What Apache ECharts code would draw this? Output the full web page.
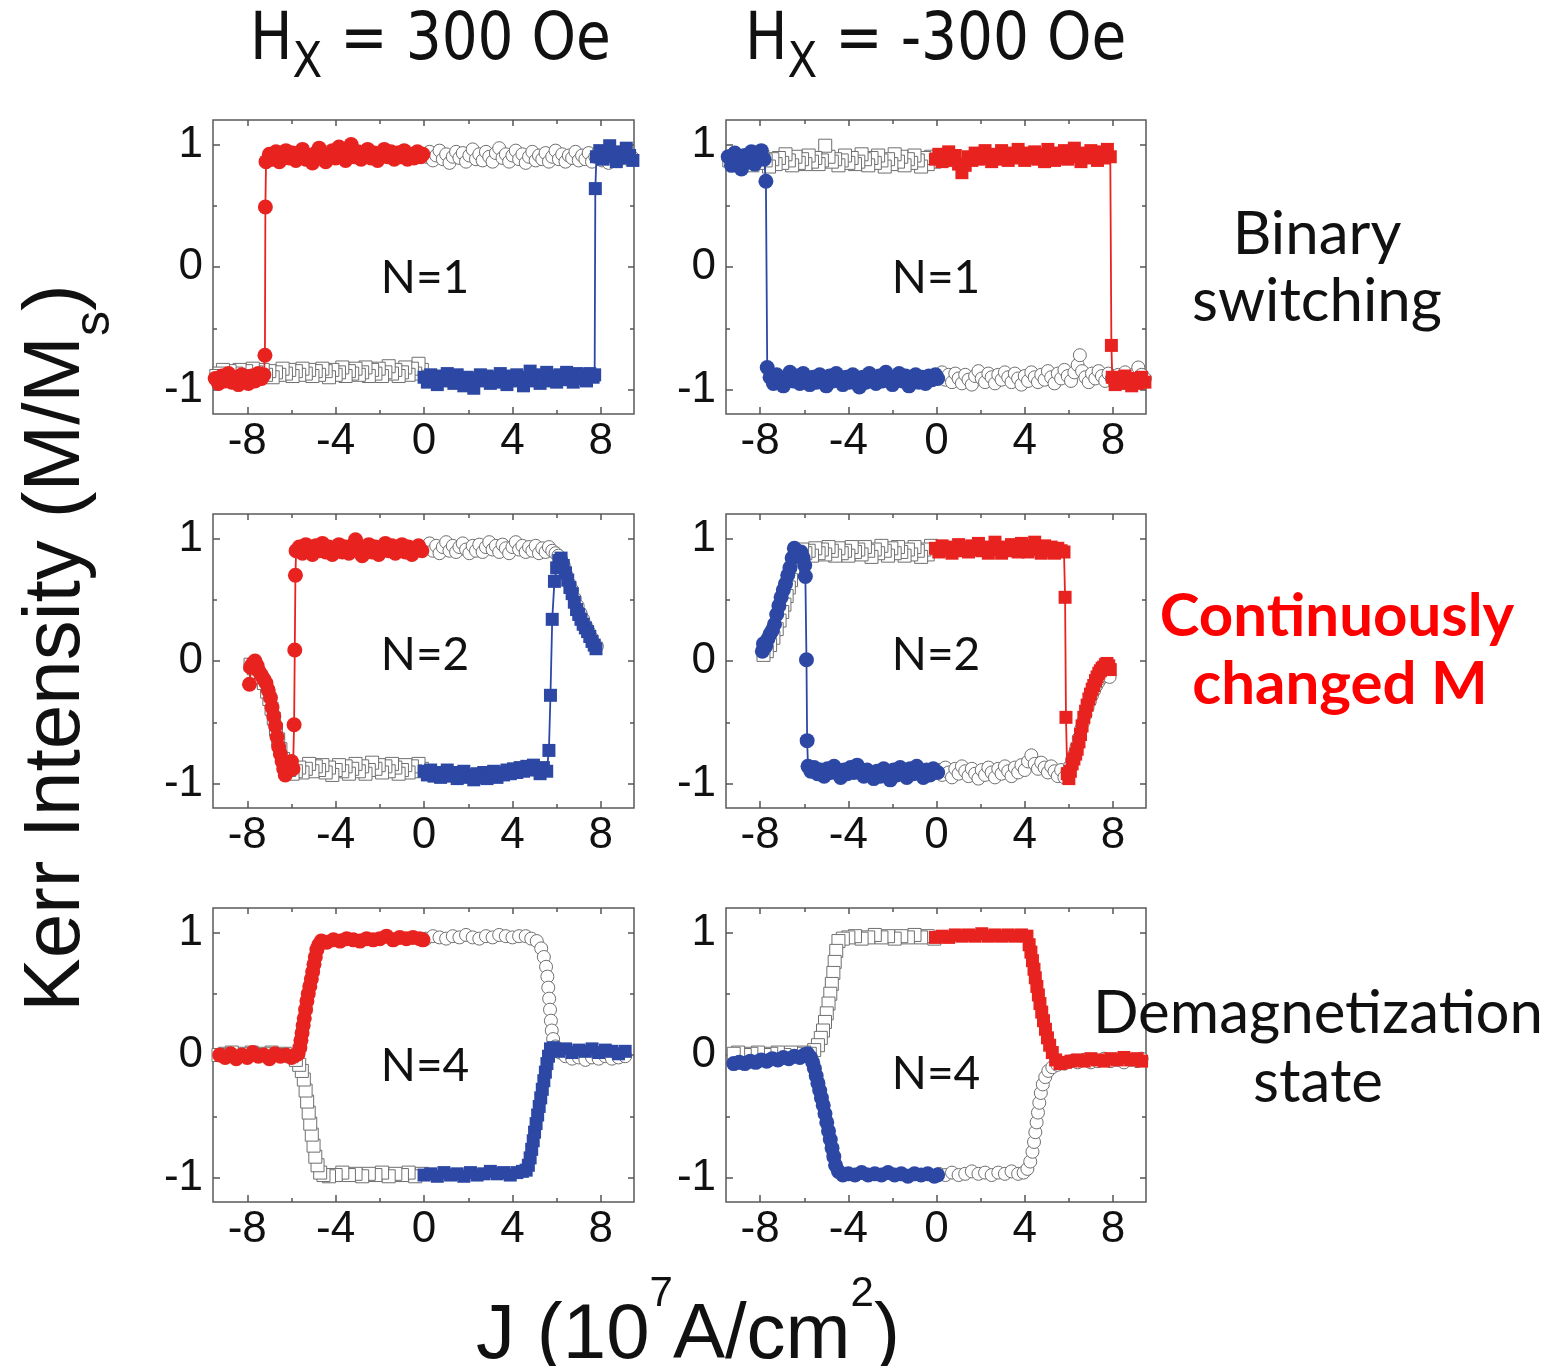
<!DOCTYPE html>
<html>
<head>
<meta charset="utf-8">
<script src="https://cdn.jsdelivr.net/npm/echarts@6/dist/echarts.min.js"></script>
<style>
  html, body { margin: 0; padding: 0; background: #fff; }
  #main { width: 1564px; height: 1366px; }
</style>
</head>
<body>
<div id="main"></div>
<script>
// tick positions
var xTicks = [-8, -4, 0, 4, 8];
var xMinor = [-6, -2, 2, 6];
var yTicks = [-1, 0, 1];
var yMinor = [-0.5, 0.5];

// ---- Hx = 300 Oe, N = 1 ----
var a_redCirc = [[-9.45,-0.91],[-9.3,-0.95],[-9.15,-0.89],[-9.0,-0.93],[-8.85,-0.87],[-8.7,-0.94],[-8.55,-0.9],[-8.4,-0.96],[-8.25,-0.88],[-8.1,-0.92],[-7.95,-0.95],[-7.8,-0.89],[-7.65,-0.93],[-7.5,-0.87],[-7.35,-0.91],[-7.25,-0.88],
  [-7.2,-0.72],[-7.18,0.49],[-7.15,0.86],
  [-7.0,0.92],[-6.85,0.88],[-6.7,0.94],[-6.55,0.86],[-6.4,0.91],[-6.25,0.95],[-6.1,0.89],[-5.95,0.93],[-5.8,0.87],[-5.65,0.92],[-5.5,0.96],[-5.35,0.88],[-5.2,0.91],[-5.05,0.85],[-4.9,0.93],[-4.75,0.97],[-4.6,0.9],[-4.45,0.86],[-4.3,0.92],[-4.15,0.95],[-4.0,0.89],[-3.85,0.98],[-3.7,0.93],[-3.55,0.87],[-3.4,0.95],[-3.3,1.0],[-3.15,0.9],[-3.0,0.94],[-2.85,0.88],[-2.7,0.92],[-2.55,0.96],[-2.4,0.89],[-2.25,0.93],[-2.1,0.87],[-1.95,0.91],[-1.8,0.96],[-1.65,0.9],[-1.5,0.94],[-1.35,0.88],[-1.2,0.93],[-1.05,0.9],[-0.9,0.95],[-0.75,0.88],[-0.6,0.92],[-0.45,0.89],[-0.3,0.94],[-0.15,0.9],[-0.05,0.92]];
var a_grayCirc = [[0.1,0.9],[0.25,0.94],[0.4,0.87],[0.55,0.91],[0.7,0.95],[0.85,0.88],[1.0,0.92],[1.15,0.85],[1.3,0.9],[1.45,0.94],[1.6,0.89],[1.75,0.93],[1.9,0.86],[2.05,0.91],[2.2,0.96],[2.35,0.88],[2.5,0.92],[2.65,0.87],[2.8,0.94],[2.95,0.9],[3.1,0.86],[3.25,0.93],[3.4,0.97],[3.55,0.89],[3.7,0.92],[3.85,0.86],[4.0,0.91],[4.15,0.95],[4.3,0.88],[4.45,0.92],[4.6,0.85],[4.75,0.9],[4.9,0.94],[5.05,0.87],[5.2,0.91],[5.35,0.88],[5.5,0.93],[5.65,0.86],[5.8,0.9],[5.95,0.95],[6.1,0.88],[6.25,0.92],[6.4,0.86],[6.55,0.91],[6.7,0.89],[6.85,0.94],[7.0,0.87],[7.15,0.91],[7.3,0.88],[7.45,0.93],[7.6,0.86],[7.75,0.9],[7.9,0.94],[8.05,0.87],[8.2,0.91],[8.35,0.85],[8.5,0.9],[8.65,0.93],[8.8,0.87],[8.95,0.91],[9.1,0.95],[9.25,0.88],[9.4,0.9]];
var a_blueSq = [[0.0,-0.9],[0.15,-0.94],[0.3,-0.88],[0.45,-0.92],[0.6,-0.96],[0.75,-0.89],[0.9,-0.93],[1.05,-0.87],[1.2,-0.91],[1.35,-0.95],[1.5,-0.88],[1.65,-0.92],[1.8,-0.97],[1.95,-0.9],[2.1,-0.94],[2.25,-0.99],[2.4,-0.91],[2.55,-0.88],[2.7,-0.93],[2.85,-0.89],[3.0,-0.95],[3.15,-0.9],[3.3,-0.94],[3.45,-0.87],[3.6,-0.92],[3.75,-0.96],[3.9,-0.89],[4.05,-0.93],[4.2,-0.88],[4.35,-0.92],[4.5,-0.97],[4.65,-0.9],[4.8,-0.85],[4.95,-0.93],[5.1,-0.88],[5.25,-0.95],[5.4,-0.91],[5.55,-0.86],[5.7,-0.93],[5.85,-0.89],[6.0,-0.94],[6.15,-0.88],[6.3,-0.92],[6.45,-0.86],[6.6,-0.9],[6.75,-0.94],[6.9,-0.87],[7.05,-0.91],[7.2,-0.88],[7.35,-0.93],[7.5,-0.87],[7.65,-0.9],[7.72,-0.88],
  [7.75,0.64],[7.8,0.9],
  [7.95,0.95],[8.1,0.88],[8.25,0.93],[8.4,0.99],[8.55,0.9],[8.7,0.86],[8.85,0.94],[9.0,0.89],[9.15,0.97],[9.3,0.91],[9.45,0.87]];
var a_graySq = [[-0.1,-0.84],[-0.25,-0.79],[-0.4,-0.87],[-0.55,-0.83],[-0.7,-0.88],[-0.85,-0.82],[-1.0,-0.86],[-1.15,-0.89],[-1.3,-0.84],[-1.45,-0.87],[-1.6,-0.81],[-1.75,-0.86],[-1.9,-0.89],[-2.05,-0.83],[-2.2,-0.87],[-2.35,-0.84],[-2.5,-0.89],[-2.65,-0.82],[-2.8,-0.86],[-2.95,-0.88],[-3.1,-0.83],[-3.25,-0.87],[-3.4,-0.85],[-3.55,-0.89],[-3.7,-0.82],[-3.85,-0.86],[-4.0,-0.88],[-4.15,-0.84],[-4.3,-0.9],[-4.45,-0.85],[-4.6,-0.83],[-4.75,-0.88],[-4.9,-0.85],[-5.05,-0.89],[-5.2,-0.84],[-5.35,-0.87],[-5.5,-0.83],[-5.65,-0.88],[-5.8,-0.85],[-5.95,-0.89],[-6.1,-0.84],[-6.25,-0.87],[-6.4,-0.83],[-6.55,-0.88],[-6.7,-0.86],[-6.85,-0.9],[-7.0,-0.85],[-7.15,-0.88],[-7.3,-0.84],[-7.45,-0.89],[-7.6,-0.86],[-7.75,-0.83],[-7.9,-0.88],[-8.05,-0.85],[-8.2,-0.89],[-8.35,-0.84],[-8.5,-0.87],[-8.65,-0.9],[-8.8,-0.85],[-8.95,-0.88],[-9.1,-0.84],[-9.25,-0.87],[-9.4,-0.89]];

// ---- Hx = -300 Oe, N = 1 ----
var b_blueCirc = [[-9.45,0.9],[-9.3,0.83],[-9.15,0.93],[-9.0,0.87],[-8.85,0.8],[-8.7,0.91],[-8.55,0.86],[-8.4,0.94],[-8.25,0.84],[-8.1,0.9],[-7.95,0.95],[-7.82,0.88],
  [-7.74,0.7],[-7.68,-0.82],
  [-7.55,-0.9],[-7.4,-0.95],[-7.25,-0.88],[-7.1,-0.92],[-6.95,-0.97],[-6.8,-0.9],[-6.65,-0.86],[-6.5,-0.93],[-6.35,-0.89],[-6.2,-0.95],[-6.05,-0.87],[-5.9,-0.92],[-5.75,-0.96],[-5.6,-0.9],[-5.45,-0.94],[-5.3,-0.88],[-5.15,-0.93],[-5.0,-0.97],[-4.85,-0.89],[-4.7,-0.93],[-4.55,-0.87],[-4.4,-0.92],[-4.25,-0.96],[-4.1,-0.9],[-3.95,-0.94],[-3.8,-0.88],[-3.65,-0.92],[-3.5,-0.98],[-3.35,-0.9],[-3.2,-0.94],[-3.05,-0.87],[-2.9,-0.91],[-2.75,-0.95],[-2.6,-0.89],[-2.45,-0.93],[-2.3,-0.86],[-2.15,-0.91],[-2.0,-0.96],[-1.85,-0.9],[-1.7,-0.87],[-1.55,-0.93],[-1.4,-0.89],[-1.25,-0.97],[-1.1,-0.92],[-0.95,-0.88],[-0.8,-0.94],[-0.65,-0.9],[-0.5,-0.95],[-0.35,-0.89],[-0.2,-0.92],[-0.05,-0.88],[0.05,-0.91]];
var b_graySq = [[-0.1,0.86],[-0.25,0.9],[-0.4,0.84],[-0.55,0.89],[-0.7,0.82],[-0.85,0.87],[-1.0,0.91],[-1.15,0.85],[-1.3,0.88],[-1.45,0.83],[-1.6,0.9],[-1.75,0.86],[-1.9,0.92],[-2.05,0.84],[-2.2,0.88],[-2.35,0.82],[-2.5,0.87],[-2.65,0.91],[-2.8,0.85],[-2.95,0.89],[-3.1,0.83],[-3.25,0.88],[-3.4,0.92],[-3.55,0.86],[-3.7,0.84],[-3.85,0.89],[-4.0,0.85],[-4.15,0.91],[-4.3,0.87],[-4.45,0.83],[-4.6,0.88],[-4.75,0.86],[-4.9,0.9],[-5.05,0.99],[-5.2,0.87],[-5.35,0.84],[-5.5,0.89],[-5.65,0.86],[-5.8,0.91],[-5.95,0.84],[-6.1,0.88],[-6.25,0.85],[-6.4,0.9],[-6.55,0.83],[-6.7,0.87],[-6.85,0.92],[-7.0,0.85],[-7.15,0.89],[-7.3,0.84],[-7.45,0.88],[-7.6,0.82],[-7.75,0.87],[-7.9,0.9],[-8.05,0.85],[-8.2,0.88],[-8.35,0.83],[-8.5,0.89],[-8.65,0.86],[-8.8,0.9],[-8.95,0.84],[-9.1,0.88],[-9.25,0.85],[-9.4,0.87]];
var b_redSq = [[-0.05,0.88],[0.1,0.92],[0.25,0.86],[0.4,0.9],[0.55,0.94],[0.7,0.87],[0.85,0.91],[1.0,0.84],[1.15,0.77],[1.3,0.83],[1.45,0.9],[1.6,0.87],[1.75,0.93],[1.9,0.88],[2.05,0.91],[2.2,0.95],[2.35,0.89],[2.5,0.86],[2.65,0.92],[2.8,0.88],[2.95,0.95],[3.1,0.9],[3.25,0.87],[3.4,0.93],[3.55,0.89],[3.7,0.96],[3.85,0.91],[4.0,0.87],[4.15,0.93],[4.3,0.89],[4.45,0.94],[4.6,0.88],[4.75,0.92],[4.9,0.86],[5.05,0.96],[5.2,0.9],[5.35,0.87],[5.5,0.93],[5.65,0.89],[5.8,0.95],[5.95,0.88],[6.1,0.91],[6.25,0.97],[6.4,0.9],[6.55,0.86],[6.7,0.93],[6.85,0.89],[7.0,0.95],[7.15,0.9],[7.3,0.87],[7.45,0.94],[7.6,0.89],[7.75,0.96],[7.88,0.9],
  [7.93,-0.64],[7.97,-0.9],
  [8.1,-0.96],[8.25,-0.91],[8.4,-0.95],[8.55,-0.89],[8.7,-0.94],[8.85,-0.97],[9.0,-0.91],[9.15,-0.95],[9.3,-0.9],[9.45,-0.94]];
var b_grayCirc = [[0.1,-0.9],[0.25,-0.86],[0.4,-0.92],[0.55,-0.88],[0.7,-0.94],[0.85,-0.87],[1.0,-0.91],[1.15,-0.95],[1.3,-0.88],[1.45,-0.92],[1.6,-0.96],[1.75,-0.89],[1.9,-0.85],[2.05,-0.91],[2.2,-0.94],[2.35,-0.87],[2.5,-0.9],[2.65,-0.95],[2.8,-0.88],[2.95,-0.92],[3.1,-0.86],[3.25,-0.9],[3.4,-0.94],[3.55,-0.87],[3.7,-0.91],[3.85,-0.96],[4.0,-0.89],[4.15,-0.93],[4.3,-0.86],[4.45,-0.9],[4.6,-0.94],[4.75,-0.88],[4.9,-0.92],[5.05,-0.85],[5.2,-0.9],[5.35,-0.95],[5.5,-0.87],[5.65,-0.91],[5.8,-0.84],[5.95,-0.89],[6.1,-0.93],[6.25,-0.86],[6.4,-0.8],[6.5,-0.72],[6.6,-0.85],[6.75,-0.9],[6.9,-0.94],[7.05,-0.87],[7.2,-0.91],[7.35,-0.85],[7.5,-0.89],[7.65,-0.93],[7.8,-0.87],[7.95,-0.91],[8.1,-0.95],[8.25,-0.88],[8.4,-0.92],[8.55,-0.86],[8.7,-0.9],[8.85,-0.94],[9.0,-0.87],[9.15,-0.82],[9.3,-0.88],[9.45,-0.91]];

// ---- Hx = 300 Oe, N = 2 ----
var c_redCirc = [[-7.9,-0.19],[-7.85,-0.05],[-7.75,-0.02],[-7.65,0.0],[-7.55,-0.04],[-7.45,-0.09],[-7.35,-0.12],[-7.25,-0.15],[-7.15,-0.18],[-7.05,-0.24],[-6.95,-0.3],[-6.88,-0.38],[-6.8,-0.45],[-6.72,-0.53],[-6.65,-0.62],[-6.58,-0.7],[-6.5,-0.76],[-6.42,-0.82],[-6.35,-0.88],[-6.28,-0.93],[-6.2,-0.9],[-6.1,-0.85],[-6.0,-0.82],[-5.93,-0.88],
  [-5.88,-0.52],[-5.85,0.09],[-5.82,0.7],[-5.79,0.9],
  [-5.65,0.93],[-5.5,0.88],[-5.35,0.95],[-5.2,0.9],[-5.05,0.87],[-4.9,0.94],[-4.75,0.9],[-4.6,0.96],[-4.45,0.89],[-4.3,0.93],[-4.15,0.87],[-4.0,0.91],[-3.85,0.95],[-3.7,0.89],[-3.55,0.93],[-3.4,0.88],[-3.25,0.94],[-3.1,0.99],[-2.95,0.9],[-2.8,0.86],[-2.65,0.92],[-2.5,0.95],[-2.35,0.89],[-2.2,0.93],[-2.05,0.87],[-1.9,0.91],[-1.75,0.96],[-1.6,0.9],[-1.45,0.94],[-1.3,0.88],[-1.15,0.92],[-1.0,0.95],[-0.85,0.89],[-0.7,0.93],[-0.55,0.87],[-0.4,0.91],[-0.25,0.94],[-0.1,0.9]];
var c_graySq = [[-0.1,-0.88],[-0.25,-0.84],[-0.4,-0.9],[-0.55,-0.86],[-0.7,-0.91],[-0.85,-0.85],[-1.0,-0.89],[-1.15,-0.92],[-1.3,-0.87],[-1.45,-0.84],[-1.6,-0.9],[-1.75,-0.86],[-1.9,-0.91],[-2.05,-0.85],[-2.2,-0.88],[-2.35,-0.83],[-2.5,-0.89],[-2.65,-0.92],[-2.8,-0.86],[-2.95,-0.9],[-3.1,-0.84],[-3.25,-0.88],[-3.4,-0.92],[-3.55,-0.86],[-3.7,-0.9],[-3.85,-0.85],[-4.0,-0.89],[-4.15,-0.93],[-4.3,-0.87],[-4.45,-0.91],[-4.6,-0.85],[-4.75,-0.89],[-4.9,-0.86],[-5.05,-0.9],[-5.2,-0.84],[-5.35,-0.88],[-5.5,-0.91],[-5.65,-0.87],[-5.8,-0.9],[-5.95,-0.92],[-6.1,-0.89],[-6.25,-0.87],[-6.38,-0.8],[-6.5,-0.72],[-6.6,-0.64],[-6.7,-0.56],[-6.8,-0.47],[-6.9,-0.39],[-7.0,-0.31],[-7.1,-0.25],[-7.25,-0.18],[-7.4,-0.13],[-7.55,-0.09],[-7.7,-0.06],[-7.85,-0.03]];
var c_blueSq = [[0.0,-0.9],[0.15,-0.93],[0.3,-0.89],[0.45,-0.94],[0.6,-0.91],[0.75,-0.95],[0.9,-0.92],[1.05,-0.89],[1.2,-0.94],[1.35,-0.91],[1.5,-0.96],[1.65,-0.92],[1.8,-0.9],[1.95,-0.95],[2.1,-0.93],[2.25,-0.97],[2.4,-0.92],[2.55,-0.95],[2.7,-0.91],[2.85,-0.96],[3.0,-0.93],[3.15,-0.9],[3.3,-0.95],[3.45,-0.91],[3.6,-0.93],[3.75,-0.89],[3.9,-0.92],[4.05,-0.88],[4.2,-0.91],[4.35,-0.87],[4.5,-0.9],[4.65,-0.86],[4.8,-0.89],[4.95,-0.85],[5.1,-0.88],[5.25,-0.92],[5.4,-0.87],[5.55,-0.9],
  [5.65,-0.73],[5.72,-0.28],[5.8,0.34],
  [5.9,0.65],[6.0,0.76],[6.1,0.82],[6.2,0.84],[6.3,0.78],[6.4,0.72],[6.5,0.66],[6.6,0.6],[6.7,0.55],[6.8,0.48],[6.9,0.42],[7.0,0.38],[7.1,0.34],[7.2,0.3],[7.3,0.27],[7.4,0.24],[7.5,0.2],[7.6,0.16],[7.7,0.13],[7.78,0.1]];
var c_grayCirc = [[0.1,0.92],[0.25,0.96],[0.4,0.9],[0.55,0.94],[0.7,0.88],[0.85,0.93],[1.0,0.97],[1.15,0.9],[1.3,0.94],[1.45,0.89],[1.6,0.93],[1.75,0.96],[1.9,0.91],[2.05,0.88],[2.2,0.94],[2.35,0.9],[2.5,0.95],[2.65,0.89],[2.8,0.93],[2.95,0.97],[3.1,0.91],[3.25,0.94],[3.4,0.89],[3.55,0.95],[3.7,0.92],[3.85,0.88],[4.0,0.93],[4.15,0.97],[4.3,0.91],[4.45,0.94],[4.6,0.89],[4.75,0.93],[4.9,0.9],[5.05,0.94],[5.2,0.88],[5.35,0.92],[5.5,0.89],[5.65,0.93],[5.8,0.9],[5.95,0.88],[6.08,0.86],[6.2,0.83],[6.32,0.78],[6.45,0.7],[6.58,0.63],[6.7,0.58],[6.82,0.51],[6.95,0.45],[7.08,0.39],[7.2,0.34],[7.32,0.29],[7.45,0.24],[7.58,0.19],[7.7,0.14],[7.82,0.12]];

// ---- Hx = -300 Oe, N = 2 ----
var d_blueCirc = [[-7.9,0.08],[-7.85,0.14],[-7.75,0.12],[-7.65,0.18],[-7.55,0.22],[-7.45,0.25],[-7.35,0.3],[-7.25,0.38],[-7.15,0.45],[-7.05,0.52],[-6.95,0.58],[-6.85,0.63],[-6.75,0.7],[-6.65,0.76],[-6.55,0.84],[-6.45,0.92],[-6.35,0.9],[-6.25,0.87],[-6.15,0.89],[-6.05,0.84],[-5.98,0.78],
  [-5.95,0.69],[-5.9,0.01],[-5.87,-0.65],[-5.83,-0.86],
  [-5.7,-0.9],[-5.55,-0.87],[-5.4,-0.92],[-5.25,-0.89],[-5.1,-0.94],[-4.95,-0.88],[-4.8,-0.91],[-4.65,-0.86],[-4.5,-0.9],[-4.35,-0.95],[-4.2,-0.89],[-4.05,-0.92],[-3.9,-0.87],[-3.75,-0.91],[-3.6,-0.85],[-3.45,-0.9],[-3.3,-0.94],[-3.15,-0.89],[-3.0,-0.92],[-2.85,-0.96],[-2.7,-0.9],[-2.55,-0.94],[-2.4,-0.88],[-2.25,-0.91],[-2.1,-0.97],[-1.95,-0.89],[-1.8,-0.93],[-1.65,-0.87],[-1.5,-0.91],[-1.35,-0.95],[-1.2,-0.88],[-1.05,-0.92],[-0.9,-0.86],[-0.75,-0.91],[-0.6,-0.95],[-0.45,-0.89],[-0.3,-0.93],[-0.15,-0.88],[0.05,-0.91]];
var d_graySq = [[-0.1,0.9],[-0.25,0.94],[-0.4,0.87],[-0.55,0.91],[-0.7,0.85],[-0.85,0.9],[-1.0,0.93],[-1.15,0.87],[-1.3,0.91],[-1.45,0.86],[-1.6,0.89],[-1.75,0.93],[-1.9,0.88],[-2.05,0.92],[-2.2,0.86],[-2.35,0.9],[-2.5,0.94],[-2.65,0.88],[-2.8,0.91],[-2.95,0.85],[-3.1,0.9],[-3.25,0.93],[-3.4,0.87],[-3.55,0.91],[-3.7,0.89],[-3.85,0.93],[-4.0,0.86],[-4.15,0.9],[-4.3,0.88],[-4.45,0.92],[-4.6,0.86],[-4.75,0.9],[-4.9,0.93],[-5.05,0.87],[-5.2,0.91],[-5.35,0.88],[-5.5,0.92],[-5.65,0.86],[-5.8,0.9],[-5.95,0.88],[-6.1,0.91],[-6.25,0.87],[-6.38,0.82],[-6.5,0.74],[-6.6,0.66],[-6.7,0.6],[-6.8,0.53],[-6.9,0.46],[-7.0,0.4],[-7.12,0.33],[-7.25,0.26],[-7.4,0.19],[-7.55,0.13],[-7.7,0.08],[-7.85,0.05]];
var d_redSq = [[-0.05,0.92],[0.1,0.89],[0.25,0.94],[0.4,0.9],[0.55,0.93],[0.7,0.88],[0.85,0.92],[1.0,0.95],[1.15,0.9],[1.3,0.93],[1.45,0.89],[1.6,0.94],[1.75,0.91],[1.9,0.96],[2.05,0.9],[2.2,0.93],[2.35,0.88],[2.5,0.92],[2.65,0.97],[2.8,0.91],[2.95,0.88],[3.1,0.93],[3.25,0.9],[3.4,0.95],[3.55,0.91],[3.7,0.89],[3.85,0.96],[4.0,0.92],[4.15,0.89],[4.3,0.94],[4.45,0.97],[4.6,0.91],[4.75,0.88],[4.9,0.94],[5.05,0.9],[5.2,0.93],[5.35,0.88],[5.5,0.92],[5.65,0.9],[5.78,0.89],
  [5.83,0.52],[5.87,-0.46],[5.93,-0.92],[6.0,-0.96],
  [6.07,-0.9],[6.15,-0.84],[6.23,-0.8],[6.31,-0.76],[6.38,-0.72],[6.46,-0.66],[6.53,-0.6],[6.6,-0.53],[6.68,-0.46],[6.76,-0.41],[6.83,-0.36],[6.91,-0.31],[6.98,-0.27],[7.06,-0.23],[7.13,-0.2],[7.21,-0.16],[7.28,-0.13],[7.36,-0.1],[7.43,-0.08],[7.51,-0.06],[7.58,-0.05],[7.66,-0.03],[7.73,-0.02],[7.81,-0.04],[7.88,-0.07]];
var d_grayCirc = [[0.1,-0.89],[0.25,-0.93],[0.4,-0.87],[0.55,-0.91],[0.7,-0.95],[0.85,-0.88],[1.0,-0.92],[1.15,-0.86],[1.3,-0.9],[1.45,-0.94],[1.6,-0.88],[1.75,-0.92],[1.9,-0.96],[2.05,-0.89],[2.2,-0.93],[2.35,-0.87],[2.5,-0.91],[2.65,-0.95],[2.8,-0.88],[2.95,-0.92],[3.1,-0.86],[3.25,-0.9],[3.4,-0.94],[3.55,-0.87],[3.7,-0.91],[3.85,-0.85],[4.0,-0.89],[4.15,-0.82],[4.3,-0.77],[4.45,-0.84],[4.6,-0.88],[4.75,-0.83],[4.9,-0.87],[5.05,-0.91],[5.2,-0.86],[5.35,-0.9],[5.5,-0.94],[5.65,-0.89],[5.8,-0.95],[5.95,-0.9],[6.05,-0.86],[6.15,-0.81],[6.25,-0.76],[6.35,-0.7],[6.45,-0.63],[6.55,-0.56],[6.65,-0.5],[6.75,-0.44],[6.85,-0.38],[6.95,-0.33],[7.05,-0.28],[7.15,-0.24],[7.25,-0.2],[7.35,-0.17],[7.45,-0.14],[7.55,-0.12],[7.65,-0.1],[7.75,-0.11],[7.85,-0.13]];

// ---- Hx = 300 Oe, N = 4 ----
var e_redCirc = [[-9.25,0.0],[-9.0,-0.02],[-8.75,0.01],[-8.5,-0.03],[-8.25,0.0],[-8.0,-0.02],[-7.75,0.02],[-7.5,-0.01],[-7.25,0.0],[-7.0,-0.03],[-6.75,0.01],[-6.5,-0.01],[-6.25,0.0],[-6.0,-0.02],[-5.8,0.0],
  [-5.7,0.01],[-5.62,0.06],[-5.57,0.12],[-5.52,0.18],[-5.47,0.24],[-5.42,0.3],[-5.36,0.37],[-5.3,0.44],[-5.24,0.5],[-5.17,0.56],[-5.1,0.62],[-5.04,0.68],[-4.98,0.74],[-4.92,0.8],[-4.85,0.86],[-4.76,0.9],[-4.65,0.93],
  [-4.4,0.92],[-4.1,0.94],[-3.8,0.93],[-3.5,0.95],[-3.2,0.94],[-2.9,0.93],[-2.6,0.95],[-2.3,0.94],[-2.0,0.95],[-1.7,0.97],[-1.4,0.94],[-1.1,0.96],[-0.8,0.95],[-0.5,0.96],[-0.2,0.95],[-0.05,0.94]];
var e_graySq = [[-0.1,-0.97],[-0.4,-0.99],[-0.7,-0.96],[-1.0,-0.98],[-1.3,-0.97],[-1.6,-0.99],[-1.9,-0.96],[-2.2,-0.98],[-2.5,-0.97],[-2.8,-0.99],[-3.1,-0.97],[-3.4,-0.98],[-3.7,-0.96],[-4.0,-0.98],[-4.3,-0.99],[-4.55,-0.98],[-4.7,-0.96],[-4.82,-0.9],[-4.92,-0.83],[-5.0,-0.74],[-5.08,-0.65],[-5.15,-0.56],[-5.22,-0.47],[-5.29,-0.38],[-5.36,-0.29],[-5.44,-0.2],[-5.53,-0.13],[-5.65,-0.08],[-5.8,-0.04],[-6.0,-0.01],[-6.3,0.01],[-6.6,0.0],[-6.9,0.02],[-7.2,0.01],[-7.5,0.0],[-7.8,0.02],[-8.1,0.01],[-8.4,0.0],[-8.7,0.02],[-9.0,0.01],[-9.3,0.0]];
var e_blueSq = [[0.0,-0.98],[0.3,-0.97],[0.6,-0.99],[0.9,-0.96],[1.2,-0.98],[1.5,-0.97],[1.8,-0.99],[2.1,-0.96],[2.4,-0.98],[2.7,-0.97],[3.0,-0.95],[3.3,-0.97],[3.6,-0.96],[3.9,-0.98],[4.2,-0.96],[4.45,-0.95],[4.62,-0.94],
  [4.72,-0.9],[4.8,-0.84],[4.87,-0.77],[4.94,-0.7],[5.0,-0.63],[5.07,-0.56],[5.14,-0.49],[5.21,-0.42],[5.28,-0.35],[5.35,-0.28],[5.42,-0.21],[5.49,-0.14],[5.56,-0.07],[5.63,-0.01],[5.72,0.05],
  [5.85,0.06],[6.1,0.03],[6.4,0.05],[6.7,0.02],[7.0,0.04],[7.3,0.03],[7.6,0.05],[7.9,0.02],[8.2,0.04],[8.5,0.03],[8.8,0.01],[9.1,0.03]];
var e_grayCirc = [[0.1,0.95],[0.4,0.97],[0.7,0.96],[1.0,0.95],[1.3,0.97],[1.6,0.96],[1.9,0.98],[2.2,0.96],[2.5,0.95],[2.8,0.97],[3.1,0.96],[3.4,0.98],[3.7,0.97],[4.0,0.96],[4.3,0.97],[4.6,0.97],[4.85,0.95],[5.1,0.93],[5.3,0.87],[5.42,0.8],[5.52,0.72],[5.58,0.64],[5.62,0.55],[5.66,0.46],[5.7,0.37],[5.74,0.28],[5.78,0.2],[5.84,0.13],[5.95,0.07],[6.15,0.02],[6.4,-0.01],[6.7,-0.03],[7.0,-0.02],[7.3,-0.04],[7.6,-0.02],[7.9,-0.03],[8.2,-0.01],[8.5,-0.03],[8.8,-0.02],[9.1,-0.01]];

// ---- Hx = -300 Oe, N = 4 ----
var f_blueCirc = [[-9.2,-0.07],[-8.95,-0.06],[-8.7,-0.07],[-8.45,-0.05],[-8.2,-0.06],[-7.95,-0.04],[-7.7,-0.05],[-7.45,-0.03],[-7.2,-0.04],[-6.95,-0.02],[-6.7,-0.03],[-6.45,-0.01],[-6.2,-0.02],[-6.0,0.0],[-5.85,0.01],
  [-5.72,-0.02],[-5.62,-0.06],[-5.54,-0.11],[-5.46,-0.17],[-5.38,-0.23],[-5.3,-0.29],[-5.22,-0.35],[-5.14,-0.41],[-5.06,-0.48],[-4.98,-0.55],[-4.9,-0.62],[-4.82,-0.69],[-4.74,-0.76],[-4.66,-0.83],[-4.58,-0.9],[-4.45,-0.95],[-4.25,-0.98],
  [-4.0,-0.97],[-3.7,-0.98],[-3.4,-0.96],[-3.1,-0.98],[-2.8,-0.97],[-2.5,-0.98],[-2.2,-0.96],[-1.9,-0.98],[-1.6,-0.97],[-1.3,-0.99],[-1.0,-0.97],[-0.7,-0.98],[-0.4,-0.97],[-0.1,-0.99],[0.05,-0.98]];
var f_graySq = [[-0.1,0.95],[-0.4,0.97],[-0.7,0.96],[-1.0,0.98],[-1.3,0.96],[-1.6,0.97],[-1.9,0.95],[-2.2,0.97],[-2.5,0.96],[-2.8,0.98],[-3.1,0.96],[-3.4,0.95],[-3.7,0.97],[-4.0,0.96],[-4.25,0.95],[-4.45,0.93],[-4.55,0.85],[-4.62,0.76],[-4.68,0.67],[-4.75,0.58],[-4.82,0.5],[-4.9,0.42],[-4.98,0.34],[-5.06,0.27],[-5.15,0.2],[-5.25,0.14],[-5.38,0.08],[-5.55,0.04],[-5.75,0.01],[-6.0,0.02],[-6.3,0.01],[-6.6,0.02],[-6.9,0.0],[-7.2,0.02],[-7.5,0.01],[-7.8,0.0],[-8.1,0.02],[-8.4,0.01],[-8.7,0.0],[-9.0,0.02],[-9.2,0.01]];
var f_redSq = [[-0.05,0.96],[0.25,0.97],[0.55,0.96],[0.85,0.98],[1.15,0.97],[1.45,0.98],[1.75,0.97],[2.05,0.99],[2.35,0.97],[2.65,0.98],[2.95,0.97],[3.25,0.98],[3.55,0.97],[3.85,0.98],[4.1,0.97],
  [4.2,0.9],[4.28,0.84],[4.35,0.77],[4.42,0.7],[4.48,0.63],[4.55,0.56],[4.62,0.49],[4.69,0.42],[4.77,0.35],[4.85,0.28],[4.94,0.21],[5.03,0.14],[5.13,0.08],[5.25,0.02],[5.4,-0.04],[5.6,-0.07],
  [5.85,-0.06],[6.1,-0.05],[6.4,-0.04],[6.7,-0.05],[7.0,-0.03],[7.3,-0.04],[7.6,-0.05],[7.9,-0.03],[8.2,-0.04],[8.5,-0.02],[8.8,-0.04],[9.1,-0.03],[9.3,-0.05]];
var f_grayCirc = [[0.1,-0.97],[0.4,-0.98],[0.7,-0.96],[1.0,-0.98],[1.3,-0.97],[1.6,-0.95],[1.9,-0.97],[2.2,-0.96],[2.5,-0.98],[2.8,-0.96],[3.1,-0.97],[3.4,-0.95],[3.7,-0.97],[3.95,-0.96],[4.12,-0.93],[4.25,-0.87],[4.35,-0.79],[4.42,-0.71],[4.48,-0.63],[4.54,-0.55],[4.6,-0.47],[4.66,-0.39],[4.73,-0.31],[4.82,-0.24],[4.93,-0.18],[5.07,-0.13],[5.25,-0.1],[5.48,-0.08],[5.8,-0.07],[6.1,-0.05],[6.4,-0.06],[6.7,-0.04],[7.0,-0.06],[7.3,-0.05],[7.6,-0.03],[7.9,-0.05],[8.2,-0.04],[8.5,-0.06],[8.8,-0.04],[9.1,-0.05],[9.3,-0.03]];

var RED = '#e8231f';
var BLUE = '#2c48a4';

// panels: grid col/row, label, and series [data, marker kind, colour]
var panels = [
  { col: 0, row: 0, label: 'N=1', ly: 278, s: [[a_graySq, 'os'], [a_grayCirc, 'oc'], [a_redCirc, 'fc', RED], [a_blueSq, 'fs', BLUE]] },
  { col: 1, row: 0, label: 'N=1', ly: 278, s: [[b_graySq, 'os'], [b_grayCirc, 'oc'], [b_blueCirc, 'fc', BLUE], [b_redSq, 'fs', RED]] },
  { col: 0, row: 1, label: 'N=2', ly: 655, s: [[c_graySq, 'os'], [c_grayCirc, 'oc'], [c_redCirc, 'fc', RED], [c_blueSq, 'fs', BLUE]] },
  { col: 1, row: 1, label: 'N=2', ly: 655, s: [[d_graySq, 'os'], [d_grayCirc, 'oc'], [d_blueCirc, 'fc', BLUE], [d_redSq, 'fs', RED]] },
  { col: 0, row: 2, label: 'N=4', ly: 1066, s: [[e_graySq, 'os'], [e_grayCirc, 'oc'], [e_redCirc, 'fc', RED], [e_blueSq, 'fs', BLUE]] },
  { col: 1, row: 2, label: 'N=4', ly: 1074, s: [[f_graySq, 'os'], [f_grayCirc, 'oc'], [f_blueCirc, 'fc', BLUE], [f_redSq, 'fs', RED]] }
];

var colLeft = [213, 726];
var colWidth = [421, 420];
var rowTop = [120, 514, 908];
var colCenter = [425, 936];

var grids = [], xAxes = [], yAxes = [], series = [], graphics = [];
var tickColor = '#555';
var labelFont = 'Liberation Sans, Arial, sans-serif';

function xAxisDef(g, pos, vals, len, labels) {
  return {
    type: 'value', gridIndex: g, position: pos, min: -9.55, max: 9.5,
    axisLine: { show: false, onZero: false }, splitLine: { show: false },
    axisTick: { show: true, inside: true, length: len, customValues: vals, lineStyle: { color: tickColor, width: 1.5 } },
    axisLabel: labels ? { show: true, customValues: xTicks, margin: 6, color: '#111', fontSize: 44, fontFamily: labelFont } : { show: false }
  };
}
function yAxisDef(g, pos, vals, len, labels) {
  return {
    type: 'value', gridIndex: g, position: pos, min: -1.2, max: 1.2,
    axisLine: { show: false, onZero: false }, splitLine: { show: false },
    axisTick: { show: true, inside: true, length: len, customValues: vals, lineStyle: { color: tickColor, width: 1.5 } },
    axisLabel: labels ? { show: true, customValues: yTicks, margin: 10, color: '#111', fontSize: 44, fontFamily: labelFont } : { show: false }
  };
}

panels.forEach(function (p, g) {
  grids.push({
    left: colLeft[p.col], top: rowTop[p.row], width: colWidth[p.col], height: 294,
    show: true, borderColor: '#5a5a5a', borderWidth: 1.5, backgroundColor: 'transparent'
  });
  xAxes.push(xAxisDef(g, 'bottom', xTicks, 7, true));
  xAxes.push(xAxisDef(g, 'bottom', xMinor, 4, false));
  xAxes.push(xAxisDef(g, 'top', xTicks, 6, false));
  xAxes.push(xAxisDef(g, 'top', xMinor, 4, false));
  yAxes.push(yAxisDef(g, 'left', yTicks, 7, true));
  yAxes.push(yAxisDef(g, 'left', yMinor, 4, false));
  yAxes.push(yAxisDef(g, 'right', yTicks, 6, false));
  yAxes.push(yAxisDef(g, 'right', yMinor, 4, false));

  p.s.forEach(function (s) {
    var kind = s[1];
    var filled = kind === 'fc' || kind === 'fs';
    var circ = kind === 'fc' || kind === 'oc';
    series.push({
      type: 'line', xAxisIndex: g * 4, yAxisIndex: g * 4, data: s[0],
      symbol: circ ? 'circle' : 'rect',
      symbolSize: filled ? (circ ? 15 : 13) : 13,
      z: filled ? 4 : 2,
      clip: false,
      lineStyle: filled ? { color: s[2], width: 1.8 } : { color: '#9a9a9a', width: 0.8 },
      itemStyle: filled ? { color: s[2], borderWidth: 0 } : { color: '#ffffff', borderColor: '#6f6f6f', borderWidth: 1 },
      emphasis: { disabled: true }
    });
  });

  graphics.push({
    type: 'text', x: colCenter[p.col], y: p.ly, z: 10,
    style: { text: p.label, fontSize: 46, fontFamily: 'Lato, Open Sans, sans-serif', fill: '#111',
      align: 'center', verticalAlign: 'middle', textAlign: 'center', textVerticalAlign: 'middle' }
  });
});

// column headers
function header(x, txt) {
  return {
    type: 'text', x: x, y: 42, scaleX: 0.87,
    style: {
      text: '{a|H}{s|X}{a| = ' + txt + '}',
      align: 'left', verticalAlign: 'middle', textAlign: 'left', textVerticalAlign: 'middle',
      rich: {
        a: { fontSize: 65, fontFamily: 'DejaVu Sans', fill: '#111', lineHeight: 80 },
        s: { fontSize: 50, fontFamily: 'DejaVu Sans', fill: '#111', height: 36, lineHeight: 36, verticalAlign: 'bottom' }
      }
    }
  };
}
graphics.push(header(250, '300 Oe'));
graphics.push(header(745, '-300 Oe'));

// side annotations
function note(x, y, txt, color, bold) {
  return {
    type: 'text', x: x, y: y,
    style: { text: txt, fontSize: 60, fontFamily: 'Lato, Open Sans, sans-serif', fontWeight: bold ? 'bold' : 'normal', fill: color,
      align: 'center', verticalAlign: 'middle', textAlign: 'center', textVerticalAlign: 'middle' }
  };
}
graphics.push(note(1317, 235, 'Binary', '#111', false));
graphics.push(note(1317, 302, 'switching', '#111', false));
graphics.push(note(1337, 617, 'Continuously', '#ff0000', true));
graphics.push(note(1340, 685, 'changed M', '#ff0000', true));
graphics.push(note(1318, 1014, 'Demagnetization', '#111', false));
graphics.push(note(1318, 1083, 'state', '#111', false));

// axis titles
graphics.push({
  type: 'text', x: 57, y: 648, rotation: Math.PI / 2,
  style: {
    text: '{a|Kerr Intensity (M/M}{s|s}{a|)}',
    align: 'center', verticalAlign: 'middle', textAlign: 'center', textVerticalAlign: 'middle',
    rich: {
      a: { fontSize: 80, fontFamily: labelFont, fill: '#111', lineHeight: 96 },
      s: { fontSize: 50, fontFamily: labelFont, fill: '#111', height: 20, lineHeight: 20, verticalAlign: 'bottom' }
    }
  }
});
graphics.push({
  type: 'text', x: 688, y: 1336,
  style: {
    text: '{a|J (10}{p|7}{a|A/cm}{p|2}{a|)}',
    align: 'center', verticalAlign: 'middle', textAlign: 'center', textVerticalAlign: 'middle',
    rich: {
      a: { fontSize: 78, fontFamily: labelFont, fill: '#111', lineHeight: 96 },
      p: { fontSize: 42, fontFamily: labelFont, fill: '#111', height: 12, lineHeight: 12, verticalAlign: 'top' }
    }
  }
});

var chart = echarts.init(document.getElementById('main'), null, { renderer: 'canvas' });
chart.setOption({
  backgroundColor: '#ffffff',
  animation: false,
  grid: grids,
  xAxis: xAxes,
  yAxis: yAxes,
  series: series,
  graphic: { elements: graphics }
});
</script>
</body>
</html>
